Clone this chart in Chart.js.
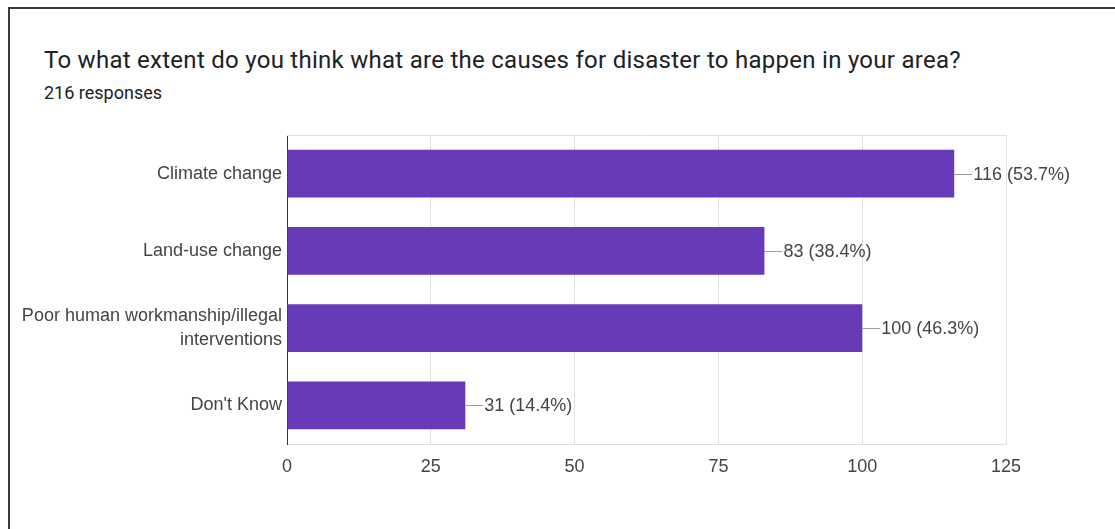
<!DOCTYPE html>
<html>
<head>
<meta charset="utf-8">
<script src="https://cdn.jsdelivr.net/npm/chart.js"></script>
<style>
  html, body { margin: 0; padding: 0; background: #fff; }
  body { width: 1115px; height: 529px; position: relative; overflow: hidden; }
  #frame { position: absolute; left: 8px; top: 7px; right: -5px; bottom: -5px; border-left: 2px solid #3a3a3a; border-top: 2px solid #3a3a3a; }
  #title { position: absolute; left: 44px; top: 46px; font-family: Roboto, sans-serif; font-size: 24px; letter-spacing: 0.27px; color: #202124; white-space: nowrap; }
  #subtitle { position: absolute; left: 44px; top: 82px; font-family: Roboto, sans-serif; font-size: 18px; color: #202124; white-space: nowrap; }
  #wrap { position: absolute; left: 0; top: 0; width: 1115px; height: 529px; }
</style>
</head>
<body>
<div id="frame"></div>
<div id="title">To what extent do you think what are the causes for disaster to happen in your area?</div>
<div id="subtitle">216 responses</div>
<div id="wrap"><canvas id="chart"></canvas></div>
<script>
// survey answers
const categories = [
  'Climate change',
  'Land-use change',
  ['Poor human workmanship/illegal', 'interventions'],
  "Don't Know"
];
const counts = [116, 83, 100, 31];
const valueLabels = ['116 (53.7%)', '83 (38.4%)', '100 (46.3%)', '31 (14.4%)'];
const xTicks = [0, 25, 50, 75, 100, 125];

const labelFont = '18px "Liberation Sans", Arial, sans-serif';

// leader line + count label at the end of each bar
const barLabels = {
  id: 'barLabels',
  afterDatasetsDraw(chart) {
    const ctx = chart.ctx;
    const meta = chart.getDatasetMeta(0);
    ctx.save();
    ctx.font = labelFont;
    ctx.textBaseline = 'middle';
    meta.data.forEach((bar, i) => {
      const x = bar.x;
      const y = Math.round(bar.y) + 0.5;
      ctx.strokeStyle = '#9e9e9e';
      ctx.lineWidth = 1;
      ctx.beginPath();
      ctx.moveTo(x, y);
      ctx.lineTo(x + 18, y);
      ctx.stroke();
      ctx.fillStyle = '#444';
      ctx.fillText(valueLabels[i], x + 19, y + 1);
    });
    ctx.restore();
  }
};

// light frame line across the top of the plot
const topLine = {
  id: 'topLine',
  beforeDatasetsDraw(chart) {
    const { ctx, chartArea } = chart;
    ctx.save();
    ctx.strokeStyle = '#e0e0e0';
    ctx.lineWidth = 1;
    ctx.beginPath();
    ctx.moveTo(chartArea.left, chartArea.top + 0.5);
    ctx.lineTo(chartArea.right, chartArea.top + 0.5);
    ctx.stroke();
    ctx.restore();
  }
};

new Chart(document.getElementById('chart'), {
  type: 'bar',
  data: {
    labels: categories,
    datasets: [{
      data: counts,
      backgroundColor: '#673ab7',
      borderWidth: 0,
      categoryPercentage: 1,
      barPercentage: 0.62
    }]
  },
  options: {
    indexAxis: 'y',
    responsive: true,
    maintainAspectRatio: false,
    animation: false,
    layout: { padding: { top: 135, right: 109, bottom: 0, left: 0 } },
    plugins: {
      legend: { display: false },
      tooltip: { enabled: false }
    },
    scales: {
      x: {
        min: 0,
        max: 125,
        afterBuildTicks: (scale) => { scale.ticks = xTicks.map(v => ({ value: v })); },
        afterFit: (scale) => { scale.height = 85; },
        grid: { color: '#e0e0e0', drawTicks: false },
        border: { display: true, color: '#e0e0e0' },
        ticks: { color: '#444', font: { family: '"Liberation Sans", Arial, sans-serif', size: 18 }, padding: 12 }
      },
      y: {
        afterFit: (scale) => { scale.width = 287; },
        grid: { display: false, drawTicks: false },
        border: { display: true, color: '#333', width: 1 },
        ticks: { color: '#444', font: { family: '"Liberation Sans", Arial, sans-serif', size: 18, lineHeight: 1.35 }, padding: 5 }
      }
    }
  },
  plugins: [barLabels, topLine]
});
</script>
</body>
</html>
